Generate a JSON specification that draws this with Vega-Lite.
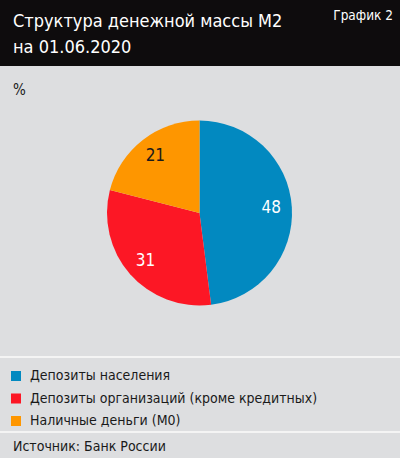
{
  "$schema": "https://vega.github.io/schema/vega-lite/v6.json",
  "width": 400,
  "height": 458,
  "autosize": {"type": "none"},
  "padding": 0,
  "background": "#dddee0",
  "config": {
    "view": {"stroke": null},
    "font": "DejaVu Sans Condensed"
  },
  "datasets": {
    "m2": [
      {"category": "Депозиты населения", "share": 48, "order": 1},
      {"category": "Депозиты организаций (кроме кредитных)", "share": 31, "order": 2},
      {"category": "Наличные деньги (М0)", "share": 21, "order": 3}
    ]
  },
  "layer": [
    {
      "data": {"values": [{}]},
      "mark": {"type": "rect", "color": "#0e0c0d"},
      "encoding": {
        "x": {"value": 0}, "x2": {"value": 400},
        "y": {"value": 0}, "y2": {"value": 66}
      }
    },
    {
      "data": {"values": [{}]},
      "mark": {"type": "rule", "color": "#f4f4f4", "strokeWidth": 2},
      "encoding": {"x": {"value": 0}, "x2": {"value": 400}, "y": {"value": 357}}
    },
    {
      "data": {"values": [{}]},
      "mark": {"type": "rule", "color": "#f4f4f4", "strokeWidth": 2},
      "encoding": {"x": {"value": 0}, "x2": {"value": 400}, "y": {"value": 432}}
    },
    {
      "data": {"values": [{}]},
      "mark": {
        "type": "text", "align": "left", "baseline": "alphabetic",
        "fontSize": 18, "lineHeight": 26, "color": "white",
        "text": ["Структура денежной массы М2", "на 01.06.2020"]
      },
      "encoding": {"x": {"value": 13}, "y": {"value": 27}}
    },
    {
      "data": {"values": [{}]},
      "mark": {
        "type": "text", "align": "right", "baseline": "alphabetic",
        "fontSize": 13.5, "color": "white", "text": "График 2"
      },
      "encoding": {"x": {"value": 393}, "y": {"value": 20}}
    },
    {
      "data": {"values": [{}]},
      "mark": {
        "type": "text", "align": "left", "baseline": "alphabetic",
        "fontSize": 15, "color": "#1a1a1a", "text": "%"
      },
      "encoding": {"x": {"value": 13}, "y": {"value": 95}}
    },
    {
      "data": {"values": [{}]},
      "mark": {
        "type": "text", "align": "left", "baseline": "alphabetic",
        "fontSize": 14, "color": "#1a1a1a", "text": "Источник: Банк России"
      },
      "encoding": {"x": {"value": 13}, "y": {"value": 451}}
    },
    {
      "data": {"name": "m2"},
      "mark": {"type": "arc", "outerRadius": 92.5},
      "encoding": {
        "x": {"value": 199.5},
        "y": {"value": 213},
        "theta": {"field": "share", "type": "quantitative", "stack": true},
        "order": {"field": "order", "type": "quantitative"},
        "color": {
          "field": "category",
          "type": "nominal",
          "scale": {
            "domain": ["Депозиты населения", "Депозиты организаций (кроме кредитных)", "Наличные деньги (М0)"],
            "range": ["#0289c0", "#fc1725", "#fe9600"]
          },
          "legend": {
            "orient": "none",
            "legendX": 9,
            "legendY": 369,
            "title": null,
            "symbolType": "square",
            "symbolSize": 100,
            "symbolStrokeWidth": 0,
            "labelFontSize": 14,
            "labelColor": "#1a1a1a",
            "labelOffset": 7,
            "rowPadding": 8.5,
            "labelLimit": 400
          }
        }
      }
    },
    {
      "data": {"name": "m2"},
      "mark": {"type": "text", "radius": 72, "fontSize": 17},
      "encoding": {
        "x": {"value": 199.5},
        "y": {"value": 213},
        "theta": {"field": "share", "type": "quantitative", "stack": true},
        "order": {"field": "order", "type": "quantitative"},
        "text": {"field": "share", "type": "quantitative"},
        "color": {
          "condition": {"test": "datum.order === 3", "value": "#1a1a1a"},
          "value": "white"
        }
      }
    }
  ]
}
